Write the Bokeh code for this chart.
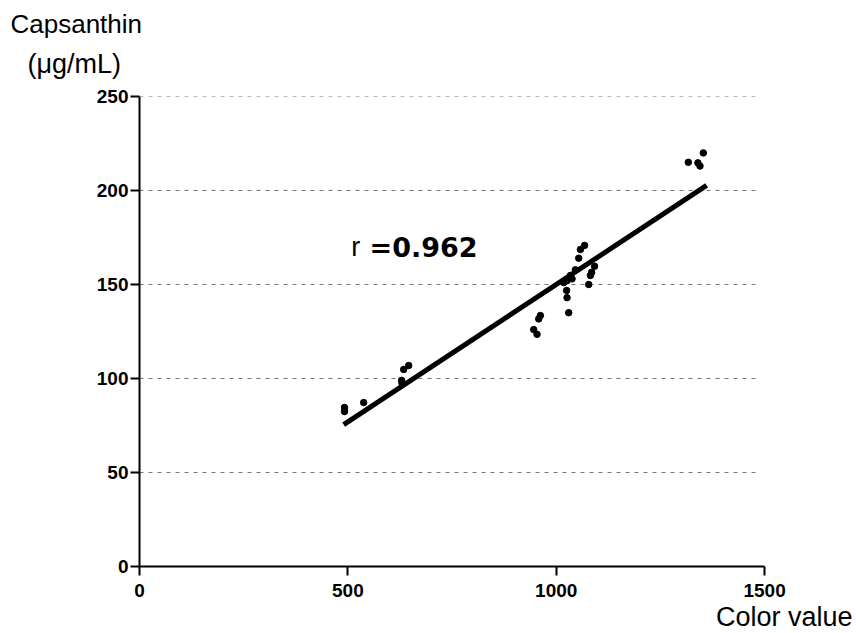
from bokeh.plotting import figure
from bokeh.models import Range1d, FixedTicker, Label, Title
from bokeh.embed import file_html
from bokeh.resources import INLINE

# --- data ---
color_value = [492, 492, 538, 629, 630, 634, 646,
               946, 954, 958, 962, 1018, 1026, 1025, 1026, 1030,
               1034, 1038, 1046, 1054, 1058, 1068, 1078, 1082, 1085, 1092,
               1317, 1340, 1345, 1353]
capsanthin = [84.6, 82.4, 87.2, 99.0, 97.5, 104.8, 106.9,
              126.0, 123.5, 131.7, 133.5, 151.0, 152.0, 146.8, 143.0, 135.0,
              154.8, 153.0, 157.8, 164.0, 168.6, 170.8, 150.0, 154.8, 156.5, 159.7,
              215.0, 214.7, 213.0, 220.0]
fit_x = [490, 1361]
fit_y = [75.5, 202.7]
x_ticks = [0, 500, 1000, 1500]
y_ticks = [0, 50, 100, 150, 200, 250]
grid_y = [50, 100, 150, 200, 250]
r_value = "0.962"

p = figure(width=856, height=633, x_range=Range1d(0, 1711), y_range=Range1d(0, 250),
           output_backend="svg", toolbar_location=None,
           min_border_left=139, min_border_right=4, min_border_top=96, min_border_bottom=67)
p.outline_line_color = None
p.xgrid.visible = False
p.ygrid.visible = False

# dashed grid lines (ending just short of 1500)
p.segment(x0=[0] * len(grid_y), y0=grid_y, x1=[1480] * len(grid_y), y1=grid_y,
          line_color="#777777", line_width=1, line_dash="4 5")

for ax in (p.xaxis[0], p.yaxis[0]):
    ax.axis_line_width = 2
    ax.axis_line_color = "black"
    ax.major_tick_line_width = 2
    ax.major_tick_line_color = "black"
    ax.major_tick_out = 9
    ax.major_tick_in = 0
    ax.minor_tick_line_color = None
    ax.major_label_text_font = "Liberation Sans"
    ax.major_label_text_font_style = "bold"
    ax.major_label_text_font_size = "19px"
    ax.major_label_text_color = "black"

p.xaxis[0].ticker = FixedTicker(ticks=x_ticks)
p.yaxis[0].ticker = FixedTicker(ticks=y_ticks)
p.xaxis[0].bounds = (0, 1500)
p.yaxis[0].bounds = (0, 250)
p.xaxis[0].major_label_standoff = 8
p.yaxis[0].major_label_standoff = 2

# regression line and points
p.line(fit_x, fit_y, line_color="black", line_width=5, line_cap="butt")
p.scatter(color_value, capsanthin, size=6.5, fill_color="black", line_color="black")

# y-axis title (two lines above the plot area); a small spacer keeps it off the frame
p.add_layout(Title(text=" ", text_font_size="1px", standoff=8), "above")
p.add_layout(Title(text="(μg/mL)", align="left", offset=-112, text_font="Liberation Sans",
                   text_font_size="27px", text_font_style="normal", text_color="black",
                   standoff=13), "above")
p.add_layout(Title(text="Capsanthin", align="left", offset=-129, text_font="Liberation Sans",
                   text_font_size="26px", text_font_style="normal", text_color="black",
                   standoff=4), "above")
# x-axis title
p.add_layout(Title(text="Color value", align="right", offset=0, text_font="Liberation Sans",
                   text_font_size="27px", text_font_style="normal", text_color="black",
                   standoff=0), "below")

# correlation coefficient
p.add_layout(Label(x=508, y=169.7, text="r", text_font="Liberation Sans",
                   text_font_size="27px", text_color="black", text_baseline="alphabetic"))
p.add_layout(Label(x=552, y=169.7, text="=" + r_value, text_font="DejaVu Sans",
                   text_font_style="bold", text_font_size="27px", text_color="black",
                   text_baseline="alphabetic"))

open("out.html", "w").write(file_html(p, INLINE))
